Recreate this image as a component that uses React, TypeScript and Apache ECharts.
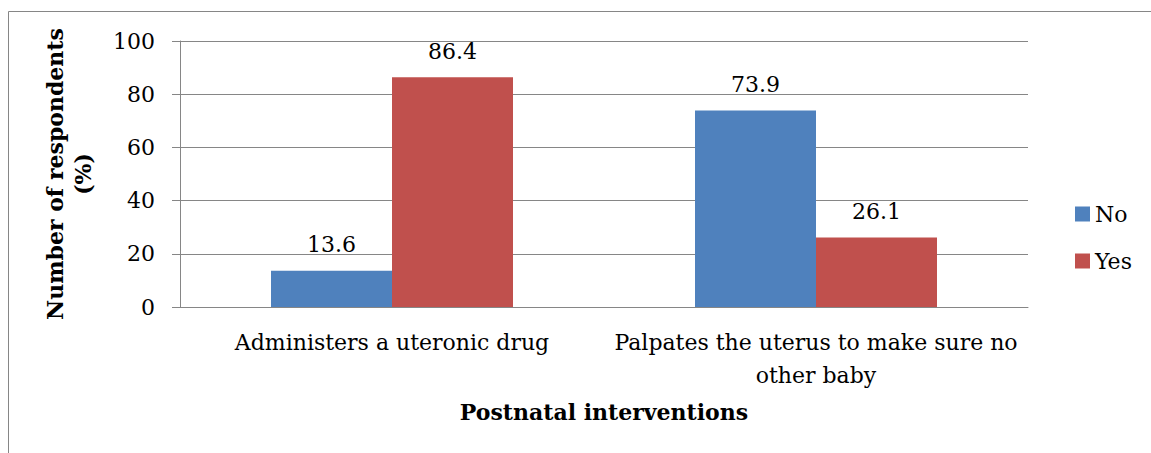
import React, { useEffect, useRef } from "react";
import * as echarts from "echarts";

const categories = ["Administers a uteronic drug", "Palpates the uterus to make sure no\nother baby"];
const noValues = [13.6, 73.9];
const yesValues = [86.4, 26.1];
const seriesNames = ["No", "Yes"];

const FONT = "'DejaVu Serif', 'Liberation Serif', serif";

export default function App() {
  const ref = useRef<HTMLDivElement>(null);
  useEffect(() => {
    if (!ref.current) return;
    const chart = echarts.init(ref.current, undefined, { renderer: "svg" });
    const labelStyle = {
      show: true,
      position: "top" as const,
      distance: 15,
      fontFamily: FONT,
      fontSize: 22,
      color: "#000",
    };
    chart.setOption({
      animation: false,
      backgroundColor: "#fff",
      textStyle: { fontFamily: FONT },
      graphic: [
        { type: "line", shape: { x1: 8.5, y1: 11.5, x2: 1151, y2: 11.5 }, style: { stroke: "#868686", lineWidth: 1 } },
        { type: "line", shape: { x1: 8.5, y1: 11.5, x2: 8.5, y2: 453 }, style: { stroke: "#868686", lineWidth: 1 } },
      ],
      grid: { left: 180, top: 41, right: 123, bottom: 146, containLabel: false },
      legend: {
        orient: "vertical",
        left: 1070,
        top: 198,
        itemWidth: 15,
        itemHeight: 15,
        itemGap: 25,
        icon: "rect",
        textStyle: { fontFamily: FONT, fontSize: 22, color: "#000" },
        data: seriesNames,
      },
      xAxis: {
        type: "category",
        data: categories,
        name: "Postnatal interventions",
        nameLocation: "middle",
        nameGap: 94,
        nameTextStyle: { fontFamily: FONT, fontSize: 22, fontWeight: "bold", color: "#000" },
        axisLine: { show: true, lineStyle: { color: "#868686" } },
        axisTick: { show: false },
        axisLabel: { interval: 0, fontFamily: FONT, fontSize: 22, color: "#000", margin: 19, lineHeight: 33 },
      },
      yAxis: {
        type: "value",
        min: 0,
        max: 100,
        interval: 20,
        name: "Number of respondents\n(%)",
        nameLocation: "middle",
        nameGap: 83,
        nameTextStyle: { fontFamily: FONT, fontSize: 22, fontWeight: "bold", color: "#000", lineHeight: 28 },
        axisLine: { show: true, lineStyle: { color: "#868686" } },
        axisTick: { show: true, length: 8, lineStyle: { color: "#868686" } },
        axisLabel: { fontFamily: FONT, fontSize: 22, color: "#000", margin: 25 },
        splitLine: { show: true, lineStyle: { color: "#868686" } },
      },
      series: [
        {
          name: seriesNames[0],
          type: "bar",
          data: noValues,
          barWidth: 121,
          barGap: "0%",
          itemStyle: { color: "#4F81BD" },
          label: labelStyle,
        },
        {
          name: seriesNames[1],
          type: "bar",
          data: yesValues,
          barWidth: 121,
          barGap: "0%",
          itemStyle: { color: "#C0504D" },
          label: labelStyle,
        },
      ],
    });
    return () => chart.dispose();
  }, []);
  return <div ref={ref} style={{ position: "fixed", left: 0, top: 0, width: 1151, height: 453 }} />;
}
